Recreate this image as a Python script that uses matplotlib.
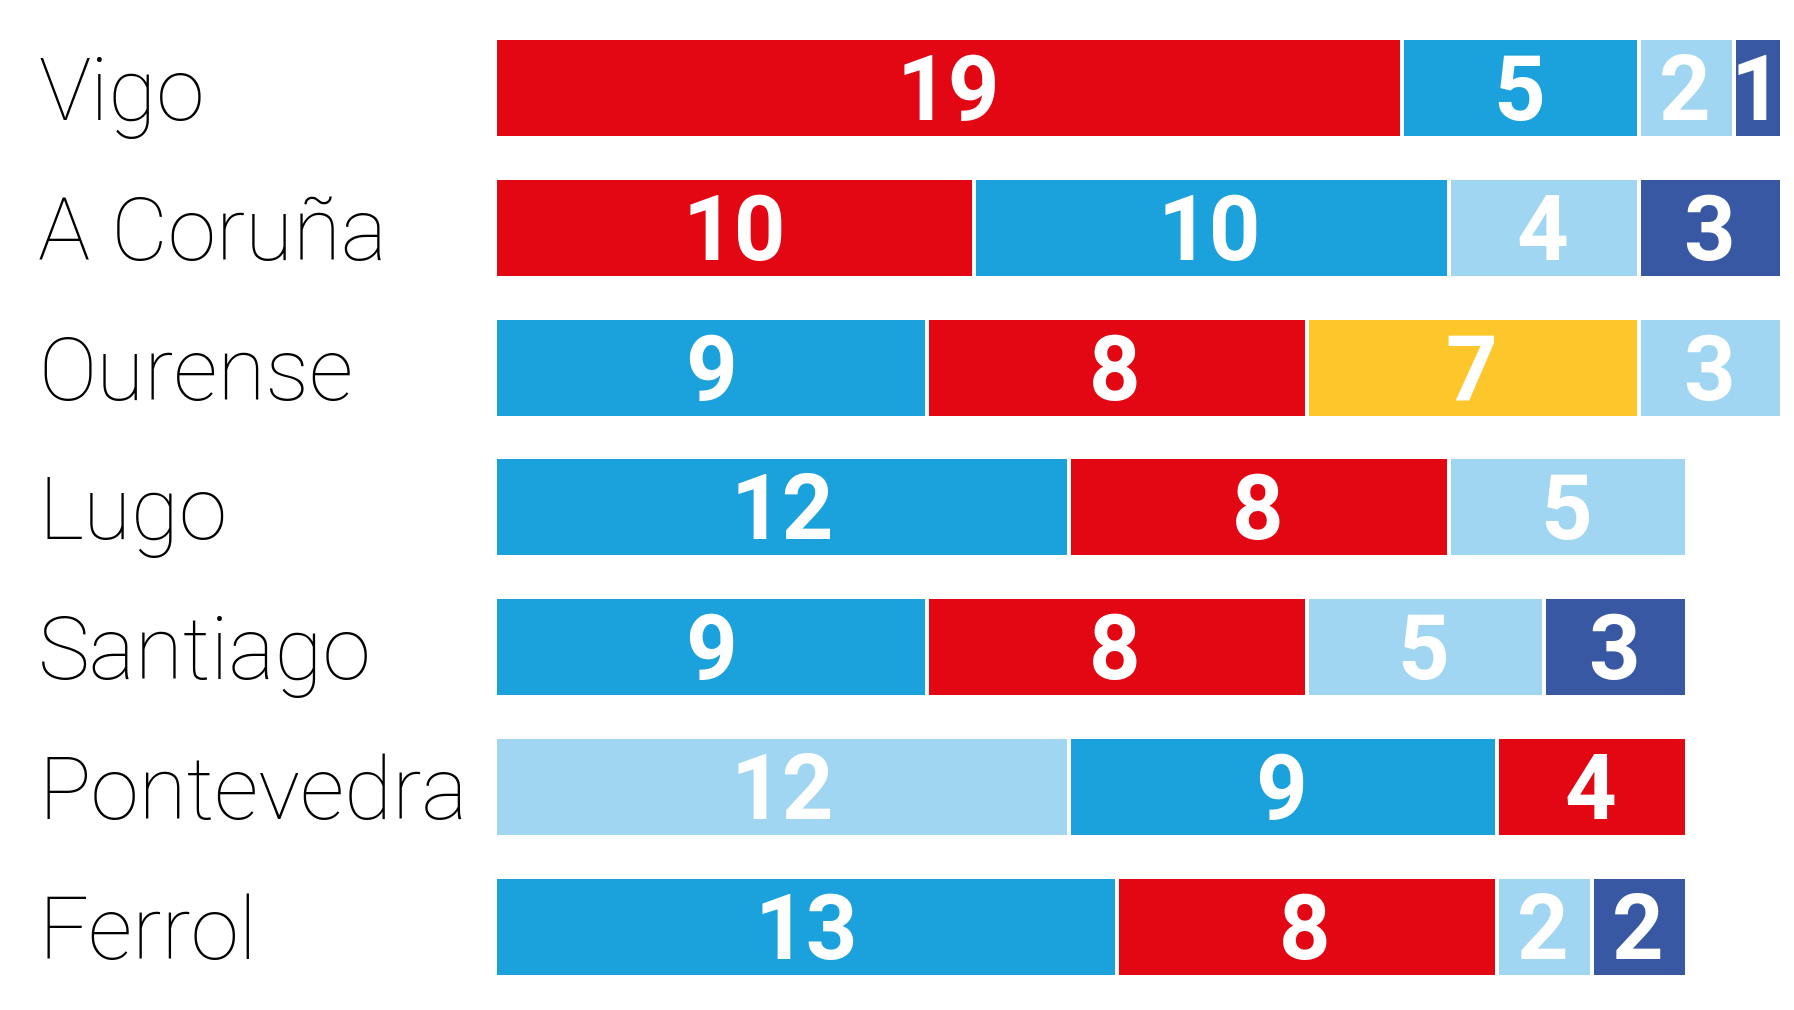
import matplotlib
matplotlib.use("Agg")
import matplotlib.pyplot as plt
import matplotlib.transforms as mtransforms

# seats per city, in the order the segments appear left to right
cities = ["Vigo", "A Coruña", "Ourense", "Lugo", "Santiago", "Pontevedra", "Ferrol"]
parties = [
    ["PSdeG", "PP", "BNG", "Local"],
    ["PSdeG", "PP", "BNG", "Local"],
    ["PP", "PSdeG", "DO", "BNG"],
    ["PP", "PSdeG", "BNG"],
    ["PP", "PSdeG", "BNG", "Local"],
    ["BNG", "PP", "PSdeG"],
    ["PP", "PSdeG", "BNG", "Local"],
]
seats = [
    [19, 5, 2, 1],
    [10, 10, 4, 3],
    [9, 8, 7, 3],
    [12, 8, 5],
    [9, 8, 5, 3],
    [12, 9, 4],
    [13, 8, 2, 2],
]
party_colors = {
    "PSdeG": "#e30613",
    "PP": "#1ba1db",
    "BNG": "#a1d6f2",
    "Local": "#3858a4",
    "DO": "#fdc72c",
}

fam = "Roboto"

W, H = 1794, 1010
fig = plt.figure(figsize=(W / 100, H / 100), dpi=100)
x0, x1 = 497, 1780
ax = fig.add_axes([x0 / W, 0, (x1 - x0) / W, 1])
pitch = 139.8
top_c = 88
ax.set_xlim(0, 27)
ax.set_ylim((H - top_c) / pitch, -top_c / pitch)
ax.axis("off")

gap = 4 / ((x1 - x0) / 27)
bar_h = 96 / pitch
for i, (row_p, row_s) in enumerate(zip(parties, seats)):
    cum = 0
    for j, (p, v) in enumerate(zip(row_p, row_s)):
        g = gap if j > 0 else 0
        ax.barh(i, v - g, left=cum + g, height=bar_h, color=party_colors[p], linewidth=0)
        ax.text(cum + v / 2, i + 32 / pitch, str(v), ha="center", va="baseline",
                color="white", fontsize=65, fontweight="bold", family=fam)
        cum += v

trans = mtransforms.blended_transform_factory(fig.transFigure, ax.transData)
for i, c in enumerate(cities):
    ax.text(38 / W, i + 32 / pitch, c, transform=trans, ha="left", va="baseline",
            fontsize=63, fontweight="light", family=fam, color="black")

fig.savefig("out.png", dpi=100)
